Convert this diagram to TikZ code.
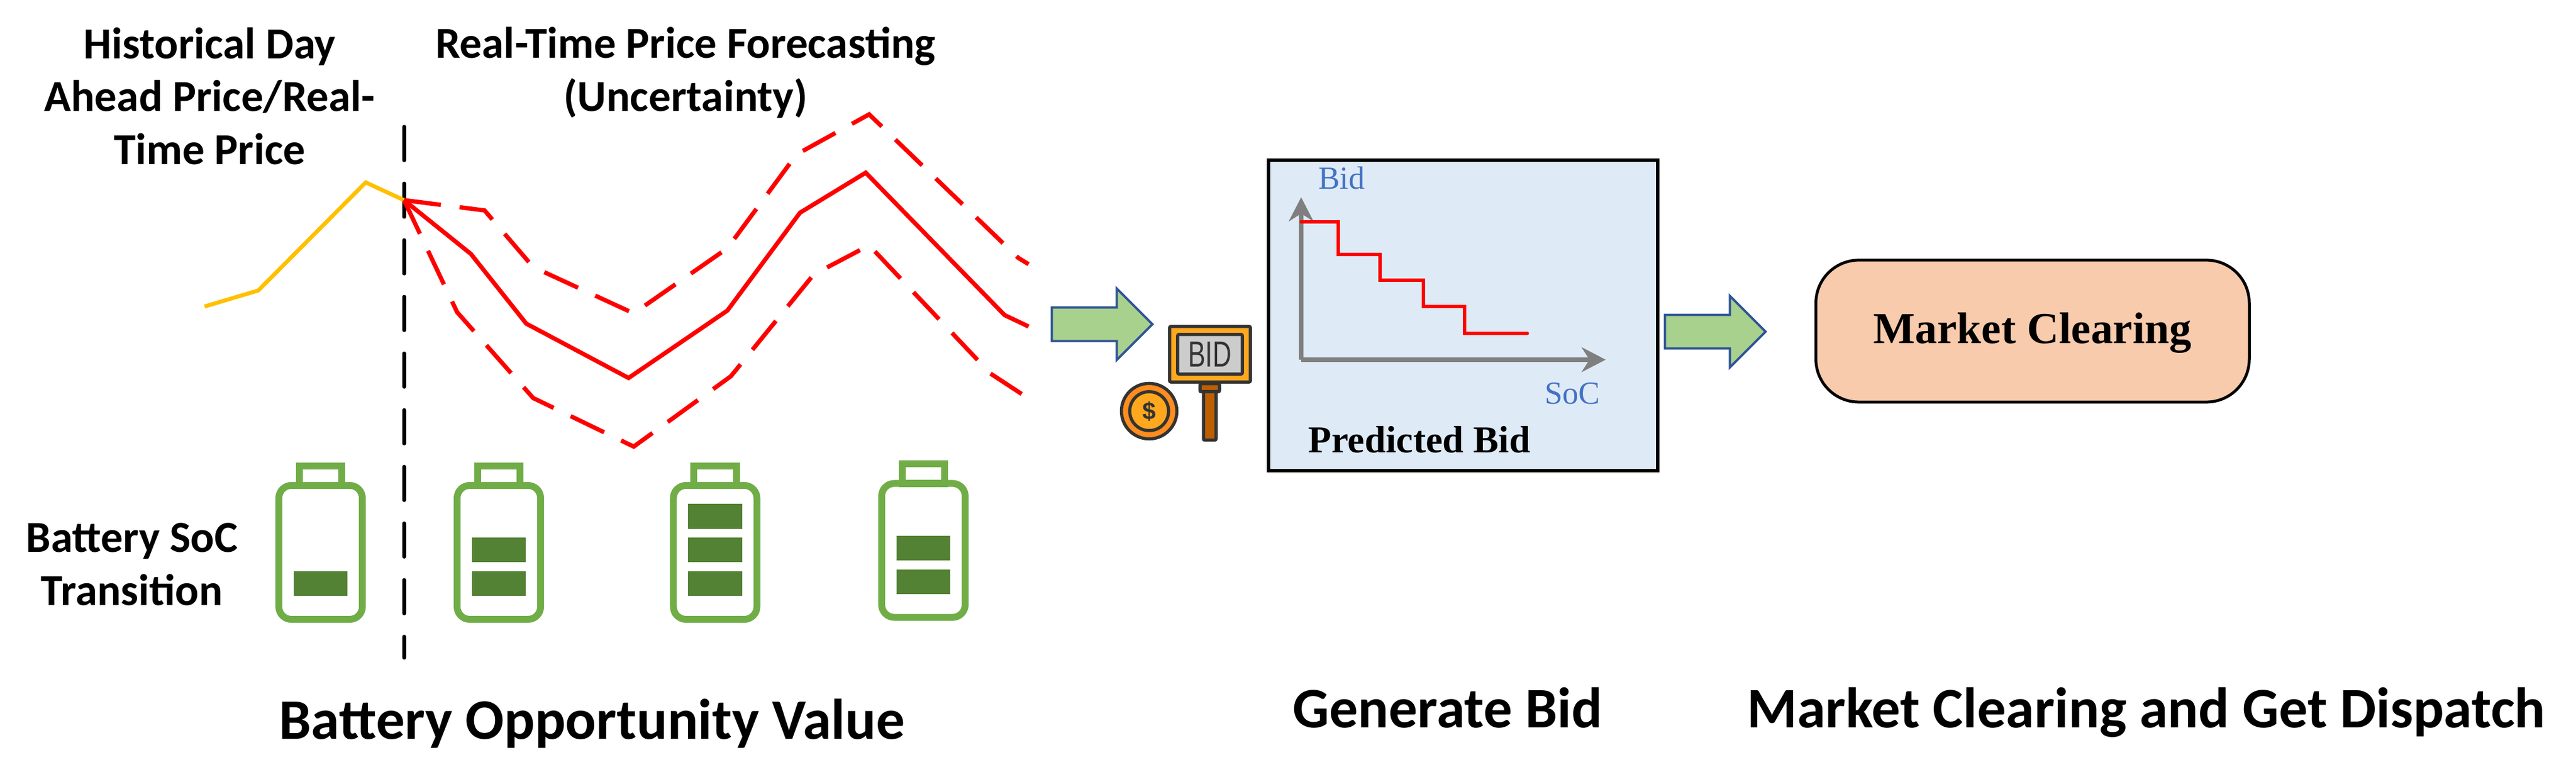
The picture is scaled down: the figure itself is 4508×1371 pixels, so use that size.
\documentclass[tikz,border=0pt]{standalone}
\usepackage{fontspec}
\setmainfont{Carlito}
\newfontfamily\timesfont{Liberation Serif}
\newfontfamily\signfont{Liberation Sans}
\usetikzlibrary{arrows.meta,shapes.arrows}
\definecolor{battgreen}{HTML}{70AD47}
\definecolor{battdark}{HTML}{548235}
\definecolor{priceyellow}{HTML}{FFC000}
\definecolor{arrowfill}{HTML}{A9D18E}
\definecolor{arrowline}{HTML}{2F5597}
\definecolor{bidfill}{HTML}{DEEBF7}
\definecolor{bidblue}{HTML}{4472C4}
\definecolor{axisgray}{HTML}{7F7F7F}
\definecolor{clearfill}{HTML}{F8CBAD}
\definecolor{icondark}{HTML}{333333}
\definecolor{iconorange}{HTML}{FFA81E}
\definecolor{icondeep}{HTML}{FF8C1E}
\definecolor{iconbrown}{HTML}{BD5F00}
\tikzset{
  caption/.style={font=\bfseries\fontsize{28.5}{34}\selectfont, anchor=base, inner sep=0pt},
  label/.style={font=\bfseries\fontsize{22}{26.4}\selectfont, align=center, inner sep=0pt},
  serif/.style={font=\timesfont\fontsize{16}{19}\selectfont, anchor=base, inner sep=0pt},
  forecast/.style={red, line width=0.075cm},
  spread/.style={forecast, dash pattern=on 0.65cm off 0.33cm},
  battbody/.style={draw=battgreen, line width=0.12cm, minimum width=1.46cm, minimum height=2.34cm, rounded corners=0.22cm},
  battcap/.style={draw=battgreen, line width=0.12cm, minimum width=0.74cm, minimum height=0.34cm},
  battbar/.style={fill=battdark, minimum width=0.94cm, minimum height=0.43cm, inner sep=0pt},
  flow/.style={single arrow, draw=arrowline, fill=arrowfill, line width=0.04cm, minimum height=1.76cm, single arrow head extend=0.33cm, single arrow head indent=0cm, inner xsep=0pt, inner ysep=0.2725cm},
  icon/.style={draw=icondark, line width=0.055cm, inner sep=0pt, rounded corners=0.02cm}
}
\begin{document}
\begin{tikzpicture}[x=0.01cm, y=-0.01cm]
\useasboundingbox (0,0) rectangle (4508,1371);

\node (history) [label] at (367,168) {Historical Day\\Ahead Price/Real-\\Time Price};
\node (forecasting) [label] at (1200,127) {Real-Time Price Forecasting\\(Uncertainty)};
\node (soc) [label] at (231,987) {Battery SoC\\Transition};

\coordinate (now) at (707,350);
\coordinate (divtop) at (707,222);
\coordinate (divbot) at (707,1150);
\draw [line width=0.07cm, line cap=round, dash pattern=on 0.58cm off 0.41cm] (divtop) -- (divbot);

\draw [priceyellow, line width=0.07cm] (358,536) -- (452,508) -- (640,319) -- (now);
\draw [forecast] (now) -- (824,444) -- (921,566) -- (1100,661) -- (1273,543) -- (1400,372) -- (1515,302) -- (1758,551) -- (1800,571);
\draw [spread] (now) -- (848,368) -- (933,467) -- (1109,548) -- (1273,434) -- (1394,270) -- (1521,200) -- (1782,451) -- (1800,462);
\draw [spread] (now) -- (800,546) -- (933,696) -- (1109,781) -- (1279,658) -- (1424,480) -- (1521,429) -- (1733,653) -- (1791,691);

\foreach \n/\x/\y in {a/561/966, b/873/966, c/1251.5/966, d/1616/962.5} {
  \node (cap\n) [battcap] at (\x,\y-134) {};
  \node (batt\n) [battbody] at (\x,\y) {};
}
\foreach \n/\x/\y in {a1/561/1020.5, b1/873/1020.5, b2/873/961.5, c1/1251.5/1020.5, c2/1251.5/961.5, c3/1251.5/903, d1/1616/1017.5, d2/1616/958.5} {
  \node (bar\n) [battbar] at (\x,\y) {};
}

\node (toBid) [flow] at (1914,567) {};

\node (post) [icon, fill=iconbrown, minimum width=0.22cm, minimum height=0.85cm] at (2117,727) {};
\node (collar) [icon, fill=iconbrown, minimum width=0.34cm, minimum height=0.14cm] at (2117,678) {};
\node (sign) [icon, fill=iconorange, minimum width=1.41cm, minimum height=0.97cm] at (2117.5,619.5) {};
\node (signtext) [icon, fill=black!20, minimum width=1.13cm, minimum height=0.69cm, font=\signfont\fontsize{18}{18}\selectfont, text=icondark] at (2117.5,619.5) {\scalebox{0.72}[1]{BID}};
\node (coin) [icon, circle, fill=icondeep, minimum size=0.97cm] at (2011,719) {};
\node (coinface) [icon, circle, fill=iconorange, minimum size=0.68cm, font=\signfont\bfseries\fontsize{12}{12}\selectfont, text=icondark] at (2011,719) {\$};

\node (bidbox) [draw=black, line width=0.06cm, fill=bidfill, minimum width=6.81cm, minimum height=5.43cm] at (2560.5,551.5) {};
\node (bidlabel) [serif, text=bidblue] at (2348,331) {Bid};
\node (soclabel) [serif, text=bidblue] at (2752,707) {SoC};
\node (predicted) [serif, font=\timesfont\bfseries\fontsize{18.9}{22}\selectfont] at (2484,792) {Predicted Bid};
\coordinate (origin) at (2277,629);
\coordinate (bidtop) at (2277,345);
\coordinate (socend) at (2810,629);
\draw [axisgray, line width=0.08cm, -{Stealth[length=0.42cm, width=0.43cm]}] (origin) -- (bidtop);
\draw [axisgray, line width=0.08cm, -{Stealth[length=0.42cm, width=0.43cm]}] (origin) -- (socend);
\coordinate (stepstart) at (2277,388);
\draw [red, line width=0.055cm, line cap=round] (stepstart) -- ++(65,0) -- ++(0,57) -- ++(73,0) -- ++(0,45) -- ++(76,0) -- ++(0,46) -- ++(72,0) -- ++(0,47) -- ++(110,0);

\node (toClearing) [flow] at (2987,580) {};

\node (clearing) [draw=black, line width=0.05cm, fill=clearfill, minimum width=7.58cm, minimum height=2.48cm, rounded corners=0.75cm, text height=17pt, font=\timesfont\bfseries\fontsize{22}{26}\selectfont] at (3557,579) {Market Clearing};

\node (oppvalue) [caption] at (1036,1293) {Battery Opportunity Value};
\node (genbid) [caption] at (2533,1273) {Generate Bid};
\node (dispatch) [caption] at (3756,1273) {Market Clearing and Get Dispatch};
\end{tikzpicture}
\end{document}
